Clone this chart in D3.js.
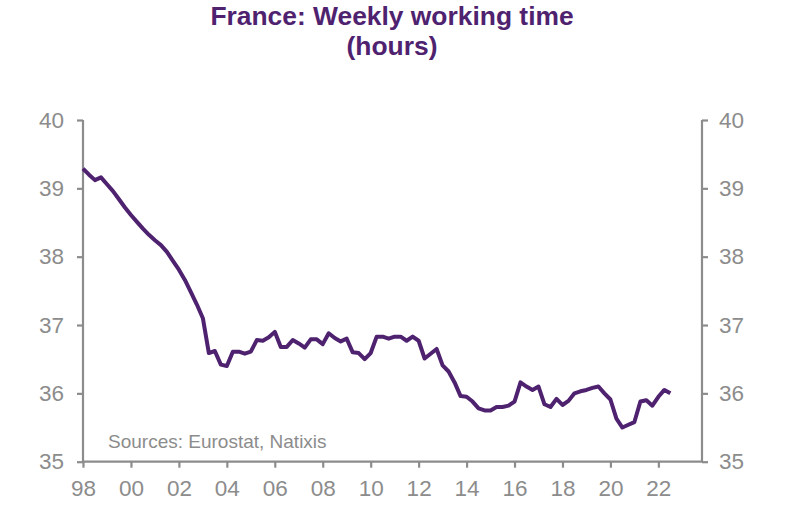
<!DOCTYPE html>
<html>
<head>
<meta charset="utf-8">
<script src="https://cdn.jsdelivr.net/npm/d3@7"></script>
<style>
  html, body { margin: 0; padding: 0; background: #ffffff; }
  svg { display: block; font-family: "Liberation Sans", Arial, sans-serif; }
</style>
</head>
<body>
<svg id="chart" width="794" height="524"></svg>
<script>
// ---- Data (quarterly) ----
const startYear = 1998;              // first quarter = 1998 Q1
const hours = [
  39.29, 39.20, 39.12, 39.16,   // 1998
  39.06, 38.96, 38.84, 38.72,   // 1999
  38.61, 38.51, 38.41, 38.32,   // 2000
  38.24, 38.17, 38.07, 37.94,   // 2001
  37.81, 37.66, 37.48, 37.30,   // 2002
  37.10, 36.59, 36.62, 36.42,   // 2003
  36.40, 36.61, 36.61, 36.58,   // 2004
  36.61, 36.78, 36.77, 36.82,   // 2005
  36.90, 36.68, 36.68, 36.78,   // 2006
  36.73, 36.67, 36.79, 36.79,   // 2007
  36.72, 36.88, 36.81, 36.76,   // 2008
  36.80, 36.60, 36.59, 36.50,   // 2009
  36.59, 36.83, 36.83, 36.80,   // 2010
  36.83, 36.83, 36.77, 36.83,   // 2011
  36.77, 36.51, 36.58, 36.65,   // 2012
  36.41, 36.32, 36.16, 35.96,   // 2013
  35.95, 35.88, 35.78, 35.75,   // 2014
  35.75, 35.80, 35.80, 35.82,   // 2015
  35.88, 36.16, 36.10, 36.05,   // 2016
  36.10, 35.84, 35.80, 35.92,   // 2017
  35.83, 35.89, 36.00, 36.03,   // 2018
  36.05, 36.08, 36.10, 36.00,   // 2019
  35.91, 35.63, 35.50, 35.54,   // 2020
  35.58, 35.88, 35.90, 35.82,   // 2021
  35.95, 36.05, 36.00           // 2022
];
const xTickYears  = [1998, 2000, 2002, 2004, 2006, 2008, 2010, 2012, 2014, 2016, 2018, 2020, 2022];
const xTickLabels = ["98", "00", "02", "04", "06", "08", "10", "12", "14", "16", "18", "20", "22"];
const yTicks = [35, 36, 37, 38, 39, 40];
const titleLines = ["France: Weekly working time", "(hours)"];
const sourceText = "Sources: Eurostat, Natixis";

// ---- Layout ----
const purple = "#4f2270";
const grey = "#8c8c8c";
const pLeft = 83, pRight = 702, pTop = 120, pBottom = 461.7;

const svg = d3.select("#chart");

const x = d3.scaleLinear().domain([1998, 2023.82]).range([pLeft, pRight]);
const y = d3.scaleLinear().domain([35, 40]).range([pBottom, pTop]);

const data = hours.map((v, i) => ({ t: startYear + i * 0.25, v }));

// Title
svg.append("text")
  .attr("text-anchor", "middle")
  .attr("font-weight", "bold").attr("font-size", 26.4).attr("fill", purple)
  .selectAll("tspan").data(titleLines).join("tspan")
  .attr("x", 392)
  .attr("y", (d, i) => 25 + i * 30)
  .text(d => d);

// Axes
const axisFont = 22.5;
const leftAxis = svg.append("g").attr("transform", `translate(${pLeft},0)`)
  .call(d3.axisLeft(y).tickValues(yTicks).tickSize(6).tickPadding(13).tickFormat(d3.format("d")));
const rightAxis = svg.append("g").attr("transform", `translate(${pRight},0)`)
  .call(d3.axisRight(y).tickValues(yTicks).tickSize(6).tickPadding(11).tickFormat(d3.format("d")));
const bottomAxis = svg.append("g").attr("transform", `translate(0,${pBottom})`)
  .call(d3.axisBottom(x).tickValues(xTickYears).tickSize(6).tickPadding(12)
    .tickFormat((d, i) => xTickLabels[i]));

[leftAxis, rightAxis, bottomAxis].forEach(g => {
  g.select(".domain").attr("stroke", grey).attr("stroke-width", 2.2);
  g.selectAll(".tick line").attr("stroke", grey).attr("stroke-width", 2.2);
  g.selectAll(".tick text").attr("fill", grey).attr("font-size", axisFont)
    .attr("font-family", "Liberation Sans, Arial, sans-serif");
});
// domain lines without end-caps
leftAxis.select(".domain").attr("d", `M0,${pTop}V${pBottom}`);
rightAxis.select(".domain").attr("d", `M0,${pTop}V${pBottom}`);
bottomAxis.select(".domain").attr("d", `M${pLeft},0H${pRight}`);

// Source
svg.append("text")
  .attr("x", 108).attr("y", 448.3)
  .attr("font-size", 19).attr("fill", grey)
  .text(sourceText);

// Line
const line = d3.line().x(d => x(d.t)).y(d => y(d.v));
svg.append("path")
  .datum(data)
  .attr("fill", "none")
  .attr("stroke", purple)
  .attr("stroke-width", 4)
  .attr("stroke-linejoin", "round")
  .attr("d", line);
</script>
</body>
</html>
